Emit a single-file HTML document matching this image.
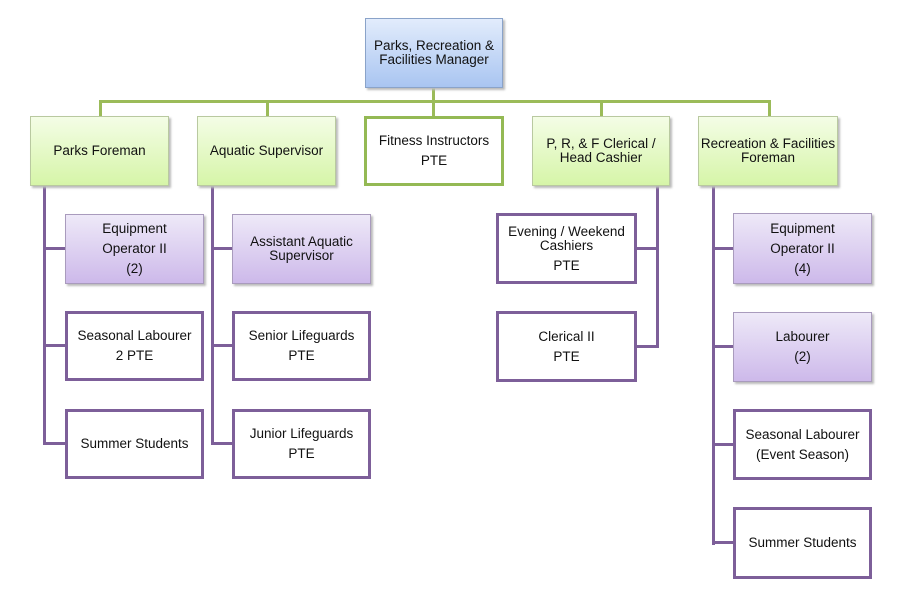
<!DOCTYPE html>
<html><head><style>
body{margin:0;width:900px;height:600px;background:#fff;position:relative;font-family:"Liberation Sans",sans-serif;overflow:hidden}
.b{position:absolute;box-sizing:border-box;display:flex;flex-direction:column;align-items:center;justify-content:center;text-align:center;font-size:13.5px;line-height:14px;color:#111}
.g{background:linear-gradient(#f4fde6,#d6f5a8);border:1px solid #b9c9a0;box-shadow:2px 2px 2px #bbb}
.p{background:linear-gradient(#eee9f8,#cdb9ea);border:1px solid #a99bbd;box-shadow:2px 2px 2px #bbb}
.bl{background:linear-gradient(#e2ecfc,#a9c5f1);border:1px solid #8aa3c9;box-shadow:2px 2px 2px #bbb}
.w{background:#fff;border:3px solid #7d5f99}
.wg{background:#fff;border:3px solid #94b954}
.l{position:absolute}
.gl{background:#9bbb59}
.pl{background:#7d5f99}
.gap{height:6px}
</style></head><body>
<div class="l gl" style="left:99px;top:100px;width:672px;height:3px"></div>
<div class="l gl" style="left:432px;top:87px;width:3px;height:30px"></div>
<div class="l gl" style="left:99px;top:100px;width:3px;height:17px"></div>
<div class="l gl" style="left:266px;top:100px;width:3px;height:17px"></div>
<div class="l gl" style="left:600px;top:100px;width:3px;height:17px"></div>
<div class="l gl" style="left:768px;top:100px;width:3px;height:17px"></div>

<div class="l pl" style="left:43px;top:185px;width:3px;height:260px"></div>
<div class="l pl" style="left:43px;top:247px;width:22px;height:3px"></div>
<div class="l pl" style="left:43px;top:344px;width:22px;height:3px"></div>
<div class="l pl" style="left:43px;top:442px;width:22px;height:3px"></div>
<div class="l pl" style="left:211px;top:185px;width:3px;height:260px"></div>
<div class="l pl" style="left:211px;top:247px;width:22px;height:3px"></div>
<div class="l pl" style="left:211px;top:344px;width:22px;height:3px"></div>
<div class="l pl" style="left:211px;top:442px;width:22px;height:3px"></div>
<div class="l pl" style="left:656px;top:185px;width:3px;height:163px"></div>
<div class="l pl" style="left:636px;top:247px;width:22px;height:3px"></div>
<div class="l pl" style="left:636px;top:345px;width:22px;height:3px"></div>
<div class="l pl" style="left:712px;top:185px;width:3px;height:360px"></div>
<div class="l pl" style="left:712px;top:247px;width:22px;height:3px"></div>
<div class="l pl" style="left:712px;top:345px;width:22px;height:3px"></div>
<div class="l pl" style="left:712px;top:443px;width:22px;height:3px"></div>
<div class="l pl" style="left:712px;top:541px;width:22px;height:3px"></div>

<div class="b bl" style="left:365px;top:18px;width:138px;height:70px">Parks, Recreation &amp;<br>Facilities Manager</div>

<div class="b g" style="left:30px;top:116px;width:139px;height:70px">Parks Foreman</div>
<div class="b g" style="left:197px;top:116px;width:139px;height:70px">Aquatic Supervisor</div>
<div class="b wg" style="left:364px;top:116px;width:140px;height:70px">Fitness Instructors<div class="gap"></div>PTE</div>
<div class="b g" style="left:532px;top:116px;width:138px;height:70px">P, R, &amp; F Clerical /<br>Head Cashier</div>
<div class="b g" style="left:698px;top:116px;width:140px;height:70px">Recreation &amp; Facilities<br>Foreman</div>

<div class="b p" style="left:65px;top:214px;width:139px;height:70px">Equipment<div class="gap"></div>Operator II<div class="gap"></div>(2)</div>
<div class="b w" style="left:65px;top:311px;width:139px;height:70px">Seasonal Labourer<div class="gap"></div>2 PTE</div>
<div class="b w" style="left:65px;top:409px;width:139px;height:70px">Summer Students</div>

<div class="b p" style="left:232px;top:214px;width:139px;height:70px">Assistant Aquatic<br>Supervisor</div>
<div class="b w" style="left:232px;top:311px;width:139px;height:70px">Senior Lifeguards<div class="gap"></div>PTE</div>
<div class="b w" style="left:232px;top:409px;width:139px;height:70px">Junior Lifeguards<div class="gap"></div>PTE</div>

<div class="b w" style="left:496px;top:213px;width:141px;height:71px">Evening / Weekend<br>Cashiers<div class="gap"></div>PTE</div>
<div class="b w" style="left:496px;top:311px;width:141px;height:71px">Clerical II<div class="gap"></div>PTE</div>

<div class="b p" style="left:733px;top:213px;width:139px;height:71px">Equipment<div class="gap"></div>Operator II<div class="gap"></div>(4)</div>
<div class="b p" style="left:733px;top:312px;width:139px;height:70px">Labourer<div class="gap"></div>(2)</div>
<div class="b w" style="left:733px;top:409px;width:139px;height:71px">Seasonal Labourer<div class="gap"></div>(Event Season)</div>
<div class="b w" style="left:733px;top:507px;width:139px;height:72px">Summer Students</div>
</body></html>
